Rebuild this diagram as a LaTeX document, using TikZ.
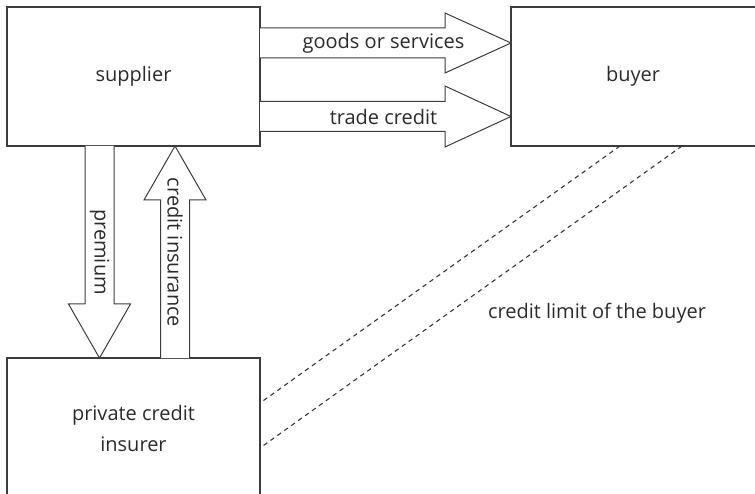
\documentclass[tikz,border=0pt]{standalone}
\usepackage{fontspec}
\setmainfont{Open Sans}
\usetikzlibrary{calc}
\definecolor{ln}{HTML}{3C3C3C}
\definecolor{tx}{HTML}{2B2B2B}
\tikzset{
  box/.style={draw=ln, line width=1.4pt, rectangle, inner sep=0pt, outer sep=0pt, text=tx},
  lbl/.style={text=tx, inner sep=0pt, font=\fontsize{20}{24}\selectfont},
  blockarrow/.style={draw=ln, line width=1pt, fill=white, line join=miter},
  limitline/.style={draw=ln!90!black, line width=1.1pt, dash pattern=on 4.5pt off 4pt}
}
\begin{document}
\begin{tikzpicture}[x=1pt,y=-1pt]
\useasboundingbox (0,0) rectangle (755,494);
\clip (0,0) rectangle (755,494);
% boxes
\node[box, minimum width=253pt, minimum height=139pt, font=\fontsize{20}{24}\selectfont] (supplier) at (133.5,76.5) {supplier};
\node[box, minimum width=260pt, minimum height=139pt, anchor=west] (buyer) at (511,76.5) {};
\node[lbl] (buyerlabel) at (633,76.5) {buyer};
\node[box, minimum width=253pt, minimum height=140pt, align=center, font=\fontsize{20}{31}\selectfont] (insurer) at (133.5,428) {private credit\\insurer};
% horizontal block arrows
\draw[blockarrow] (supplier.east |- 0,28) -- (445,28) -- (445,13) -- (buyer.west |- 0,43)
  -- (445,73) -- (445,58) -- (supplier.east |- 0,58);
\draw[blockarrow] (supplier.east |- 0,101.5) -- (445,101.5) -- (445,86) -- (buyer.west |- 0,116.5)
  -- (445,147) -- (445,131.5) -- (supplier.east |- 0,131.5);
\node[lbl] (goods) at (383.5,43) {goods or services};
\node[lbl] (trade) at (383.5,117) {trade credit};
% vertical block arrows
\draw[blockarrow] (85,0 |- supplier.south) -- (85,304) -- (68.5,304) -- (99.5,0 |- insurer.north)
  -- (130.5,304) -- (114,304) -- (114,0 |- supplier.south);
\draw[blockarrow] (160.5,0 |- insurer.north) -- (160.5,200) -- (144,200) -- (175,0 |- supplier.south)
  -- (206,200) -- (189.5,200) -- (189.5,0 |- insurer.north);
\node[lbl, rotate=-90] (premium) at (99.5,252) {premium};
\node[lbl, rotate=-90] (creditins) at (175,252.5) {credit insurance};
% credit limit lines
\draw[limitline] (620,0 |- buyer.south) -- (insurer.east |- 0,403);
\draw[limitline] (682,0 |- buyer.south) -- (insurer.east |- 0,448);
\node[lbl] (limit) at (597,313) {credit limit of the buyer};
\end{tikzpicture}
\end{document}
